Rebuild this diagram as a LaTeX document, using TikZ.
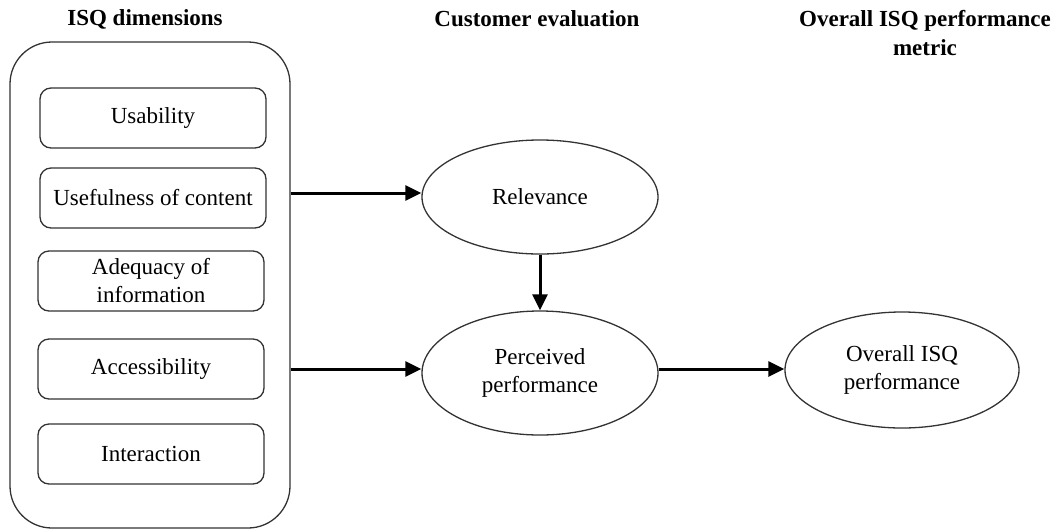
\documentclass[tikz,border=0pt]{standalone}
\usepackage{fontspec}
\setmainfont{Liberation Serif}
\usetikzlibrary{shapes.geometric,arrows.meta}
\begin{document}
\begin{tikzpicture}[x=1pt,y=-1pt,
  txt/.style={font=\fontsize{23}{28}\selectfont, align=center},
  head/.style={font=\fontsize{23}{29}\selectfont\bfseries, align=center},
  dimbox/.style={txt, draw=black!80, line width=1.3pt, rounded corners=11pt, minimum width=226pt, minimum height=60pt, inner sep=1pt},
  ell/.style={txt, ellipse, draw=black!80, line width=1.3pt, inner sep=0pt},
  arr/.style={line width=3pt, -{Triangle[length=16pt,width=15pt]}},
  lin/.style={line width=3pt}
]
\useasboundingbox (0,0) rectangle (1053,531);
\node[draw=black!80, line width=1.3pt, rounded corners=42pt, minimum width=280pt, minimum height=486pt] (outer) at (150,285) {};
\node[head] (h1) at (145,19) {ISQ dimensions};
\node[head] (h2) at (537,19) {Customer evaluation};
\node[head] (h3) at (925,33) {Overall ISQ performance\\metric};
\node[dimbox] (usab) at (153,118) {Usability};
\node[dimbox] (usef) at (153,198) {Usefulness of content};
\node[dimbox] (adeq) at (151,281) {Adequacy of\\information};
\node[dimbox] (acc) at (151,369) {Accessibility};
\node[dimbox] (inter) at (151,454) {Interaction};
\node[ell, minimum width=236pt, minimum height=114pt] (rel) at (540,197) {Relevance};
\node[ell, minimum width=236pt, minimum height=124pt] (perc) at (540,373) {Perceived\\performance};
\node[ell, minimum width=234pt, minimum height=116pt] (over) at (902,370) {Overall ISQ\\performance};
\coordinate (o1) at (outer.east |- 0,193);
\coordinate (o2) at (outer.east |- 0,369);
\draw[arr] (o1) -- (rel.west |- o1);
\draw[arr] (o2) -- (perc.west |- o2);
\draw[arr] (rel.south) -- (perc.north);
\draw[arr] (perc.east |- 0,369) -- (over.west |- 0,369);
\end{tikzpicture}
\end{document}
